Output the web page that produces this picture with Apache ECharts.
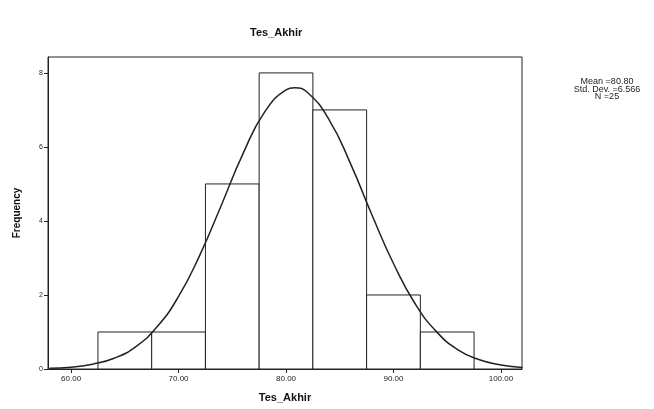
<!DOCTYPE html>
<html>
<head>
<meta charset="utf-8">
<script src="https://cdn.jsdelivr.net/npm/echarts@6/dist/echarts.min.js"></script>
<style>html,body{margin:0;padding:0;background:#fff}#c{width:654px;height:409px}</style>
</head>
<body>
<div id="c"></div>
<script>
// Histogram bins (lower edge, upper edge) and counts
var binLow = [62.5, 67.5, 72.5, 77.5, 82.5, 87.5, 92.5];
var binHigh = [67.5, 72.5, 77.5, 82.5, 87.5, 92.5, 97.5];
var counts = [1, 1, 5, 8, 7, 2, 1];
// Normal curve points
var curveX = [58, 60, 62, 64, 66, 68, 70, 72, 74, 76, 78, 80, 80.8, 82, 84, 86, 88, 90, 92, 94, 96, 98, 100, 102];
var curveY = [0.02, 0.05, 0.13, 0.29, 0.60, 1.14, 1.96, 3.09, 4.44, 5.82, 6.94, 7.54, 7.60, 7.47, 6.74, 5.55, 4.16, 2.85, 1.77, 1.01, 0.52, 0.25, 0.11, 0.04];
var xTicks = [60, 70, 80, 90, 100];
var yTicks = [0, 2, 4, 6, 8];
var statLines = ['Mean =80.80', 'Std. Dev. =6.566', 'N =25'];

var barData = binLow.map(function (l, i) { return [l, binHigh[i], counts[i]]; });
var lineData = curveX.map(function (x, i) { return [x, curveY[i]]; });

var chart = echarts.init(document.getElementById('c'));
chart.setOption({
  animation: false,
  backgroundColor: '#fff',
  graphic: [
    { type: 'text', left: 250, top: 27, style: { text: 'Tes_Akhir', font: 'bold 11px Liberation Sans', fill: '#111' } },
    { type: 'text', x: 607, y: 78, style: { text: statLines.join('\n'), font: '9px Liberation Sans', fill: '#222', align: 'center', verticalAlign: 'top', lineHeight: 7.5 } }
  ],
  grid: { left: 48, top: 57, right: 132, bottom: 40, show: true, borderColor: '#222', borderWidth: 1, backgroundColor: '#fff' },
  xAxis: {
    type: 'value', min: 57.85, max: 101.96,
    name: 'Tes_Akhir', nameLocation: 'middle', nameGap: 23,
    nameTextStyle: { fontFamily: 'Liberation Sans', fontWeight: 'bold', fontSize: 11, color: '#111' },
    axisLine: { show: true, lineStyle: { color: '#222', width: 1 } },
    splitLine: { show: false },
    axisTick: { show: true, length: 4, customValues: xTicks, lineStyle: { color: '#222' } },
    axisLabel: { customValues: xTicks, formatter: function (v) { return v.toFixed(2); }, fontFamily: 'Liberation Sans', fontSize: 8, color: '#222', margin: 6 }
  },
  yAxis: {
    type: 'value', min: 0, max: 8.43,
    name: 'Frequency', nameLocation: 'middle', nameGap: 26, nameRotate: 90,
    nameTextStyle: { fontFamily: 'Liberation Sans', fontWeight: 'bold', fontSize: 10, color: '#111' },
    axisLine: { show: true, lineStyle: { color: '#222', width: 1 } },
    splitLine: { show: false },
    axisTick: { show: true, length: 4, customValues: yTicks, lineStyle: { color: '#222' } },
    axisLabel: { customValues: yTicks, fontFamily: 'Liberation Sans', fontSize: 7, color: '#222', margin: 5 }
  },
  series: [
    {
      type: 'custom',
      data: barData,
      encode: { x: [0, 1], y: 2 },
      renderItem: function (params, api) {
        var p0 = api.coord([api.value(0), api.value(2)]);
        var p1 = api.coord([api.value(1), 0]);
        return {
          type: 'rect',
          shape: { x: p0[0], y: p0[1], width: p1[0] - p0[0], height: p1[1] - p0[1] },
          style: { fill: '#fff', stroke: '#222', lineWidth: 1 }
        };
      },
      z: 2
    },
    {
      type: 'line',
      data: lineData,
      smooth: true,
      showSymbol: false,
      lineStyle: { color: '#222', width: 1.5 },
      z: 3
    }
  ]
});
</script>
</body>
</html>
